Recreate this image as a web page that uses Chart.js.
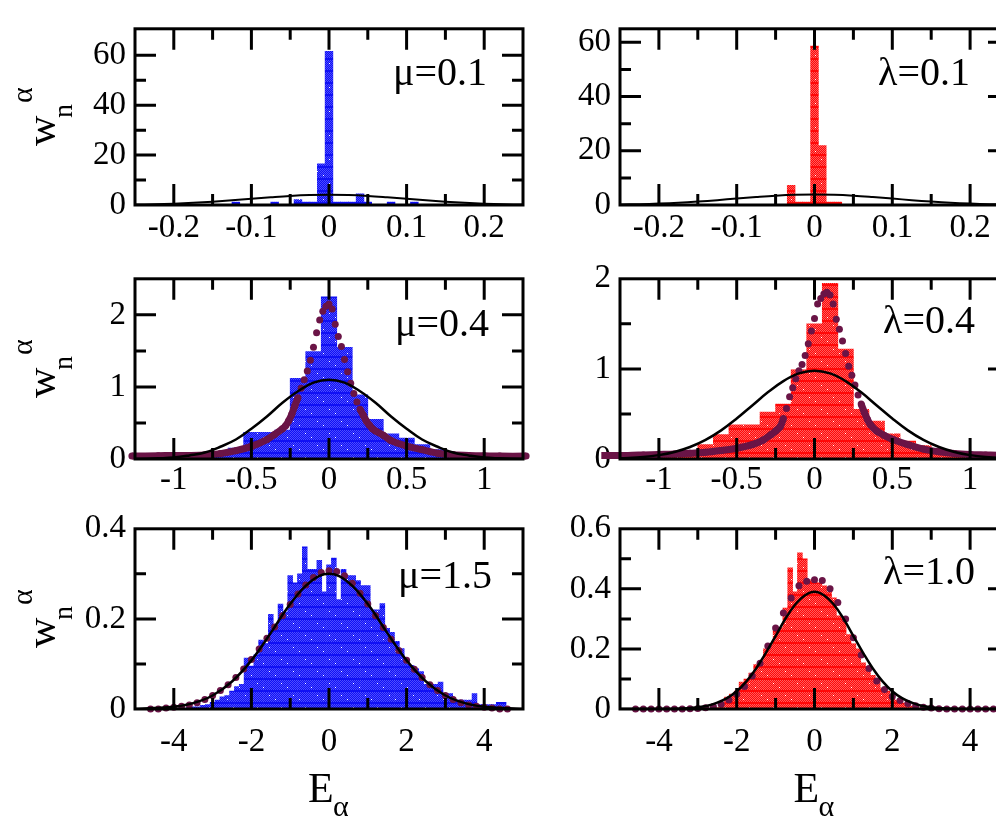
<!doctype html>
<html lang="en">
<head>
<meta charset="utf-8">
<title>Histograms of w_n^alpha</title>
<script src="https://cdn.jsdelivr.net/npm/chart.js@4"></script>
<style>
  html, body { margin: 0; padding: 0; background: #fff; }
  body { width: 996px; height: 816px; overflow: hidden; position: relative; }
  canvas { position: absolute; }
</style>
</head>
<body>
<canvas id="c1" width="540" height="250" style="left:0;top:0"></canvas>
<canvas id="c2" width="480" height="250" style="left:540px;top:0"></canvas>
<canvas id="c3" width="540" height="250" style="left:0;top:250px"></canvas>
<canvas id="c4" width="480" height="250" style="left:540px;top:250px"></canvas>
<canvas id="c5" width="540" height="316" style="left:0;top:500px"></canvas>
<canvas id="c6" width="480" height="316" style="left:540px;top:500px"></canvas>

<script>
// ---------- values ----------
// top row (mu=0.1 / lambda=0.1)
const p1BinX = [-0.12, -0.07, -0.04, -0.03, -0.02, -0.01, 0, 0.01, 0.02, 0.03, 0.04, 0.05, 0.08, 0.11];
const p1BinY = [1.2, 1.2, 2.2, 1.2, 1.2, 16.5, 61.6, 1.2, 1.2, 1.2, 4.5, 1.2, 1.2, 1.2];
const p2BinX = [-0.03, -0.02, -0.01, 0, 0.01, 0.02, 0.03];
const p2BinY = [7.3, 1.1, 1.1, 58.6, 21.9, 1.1, 1.1];
const narrowCurveX = [-0.25, -0.225, -0.2, -0.175, -0.15, -0.125, -0.1, -0.075, -0.05, -0.025, 0,
                      0.025, 0.05, 0.075, 0.1, 0.125, 0.15, 0.175, 0.2, 0.225, 0.25];
const p1CurveY = [0.18, 0.33, 0.55, 0.89, 1.33, 1.88, 2.49, 3.09, 3.62, 3.97, 4.1,
                  3.97, 3.62, 3.09, 2.49, 1.88, 1.33, 0.89, 0.55, 0.33, 0.18];
const p2CurveY = [0.17, 0.31, 0.53, 0.84, 1.27, 1.79, 2.37, 2.94, 3.44, 3.78, 3.9,
                  3.78, 3.44, 2.94, 2.37, 1.79, 1.27, 0.84, 0.53, 0.31, 0.17];

// middle row (mu=0.4 / lambda=0.4)
const midBinX = [-1.2, -1.1, -1, -0.9, -0.8, -0.7, -0.6, -0.5, -0.4, -0.3, -0.2, -0.1, 0,
                 0.1, 0.2, 0.3, 0.4, 0.5, 0.6, 0.7, 0.8, 0.9, 1, 1.1, 1.2];
const p3BinY = [0.01, 0.02, 0.02, 0.03, 0.05, 0.08, 0.15, 0.37, 0.37, 0.4, 1.12, 1.49, 2.25,
                1.55, 0.89, 0.55, 0.35, 0.29, 0.2, 0.13, 0.08, 0.05, 0.03, 0.02, 0.01];
const p4BinY = [0.02, 0.03, 0.03, 0.06, 0.09, 0.16, 0.27, 0.38, 0.38, 0.52, 0.61, 0.99, 1.5,
                1.95, 1.22, 0.55, 0.42, 0.28, 0.2, 0.15, 0.1, 0.06, 0.04, 0.03, 0.02];
const midCurveX = [-1.25, -1.1, -1, -0.9, -0.8, -0.7, -0.6, -0.5, -0.4, -0.3, -0.2, -0.1, 0,
                   0.1, 0.2, 0.3, 0.4, 0.5, 0.6, 0.7, 0.8, 0.9, 1, 1.1, 1.25];
const p3CurveY = [0, 0.01, 0.02, 0.05, 0.09, 0.17, 0.27, 0.42, 0.59, 0.78, 0.94, 1.06, 1.1,
                  1.06, 0.94, 0.78, 0.59, 0.42, 0.27, 0.17, 0.09, 0.05, 0.02, 0.01, 0];
const p4CurveY = [0.007, 0.022, 0.043, 0.078, 0.133, 0.212, 0.318, 0.449, 0.594, 0.74, 0.865, 0.95, 0.98,
                  0.95, 0.865, 0.74, 0.594, 0.449, 0.318, 0.212, 0.133, 0.078, 0.043, 0.022, 0.007];
const p3DotX = [-1.27, -1.1, -1, -0.9, -0.8, -0.7, -0.6, -0.5, -0.4, -0.35,
                -0.3, -0.28, -0.26, -0.24, -0.22, -0.2, -0.18, -0.16, -0.14, -0.12, -0.1,
                -0.08, -0.06, -0.04, -0.02, 0, 0.02, 0.04, 0.06, 0.08, 0.1,
                0.12, 0.14, 0.16, 0.18, 0.2, 0.22, 0.24, 0.26, 0.28, 0.3,
                0.35, 0.4, 0.5, 0.6, 0.7, 0.8, 0.9, 1, 1.1, 1.27];
const p3DotY = [0.04, 0.045, 0.05, 0.05, 0.055, 0.075, 0.115, 0.175, 0.27, 0.34,
                0.42, 0.46, 0.53, 0.62, 0.74, 0.85, 0.98, 1.1, 1.22, 1.37, 1.55,
                1.75, 1.93, 2.05, 2.12, 2.15, 2.08, 1.87, 1.7, 1.56, 1.38,
                1.21, 1.05, 0.91, 0.79, 0.69, 0.61, 0.53, 0.47, 0.42, 0.39,
                0.33, 0.255, 0.18, 0.13, 0.08, 0.06, 0.05, 0.045, 0.04, 0.04];
const p4DotX = [-1.37, -1.2, -1.1, -1, -0.9, -0.8, -0.7, -0.6, -0.5, -0.4, -0.33, -0.28, -0.25,
                -0.22, -0.2, -0.18, -0.16, -0.14, -0.12, -0.1, -0.08, -0.06, -0.04,
                -0.02, 0, 0.02, 0.04, 0.06, 0.08, 0.1, 0.12, 0.14, 0.16,
                0.18, 0.2, 0.22, 0.24, 0.26, 0.28, 0.3, 0.32, 0.34, 0.36,
                0.4, 0.45, 0.5, 0.6, 0.7, 0.8, 0.9, 1, 1.1, 1.2, 1.37];
const p4DotY = [0.04, 0.04, 0.045, 0.05, 0.055, 0.065, 0.075, 0.095, 0.12, 0.16, 0.21, 0.27, 0.31,
                0.36, 0.45, 0.56, 0.69, 0.79, 0.89, 0.98, 1.05, 1.15, 1.28,
                1.42, 1.56, 1.72, 1.78, 1.83, 1.85, 1.82, 1.72, 1.55, 1.44,
                1.31, 1.17, 1.03, 0.93, 0.82, 0.71, 0.61, 0.52, 0.44, 0.38,
                0.31, 0.26, 0.22, 0.16, 0.11, 0.08, 0.06, 0.05, 0.045, 0.04, 0.04];

// bottom row (mu=1.5 / lambda=1.0)
const p5BinX = [-3.625, -3.5, -3.375, -3.25, -3.125, -3, -2.875, -2.75, -2.625, -2.5, -2.375,
                -2.25, -2.125, -2, -1.875, -1.75, -1.625, -1.5, -1.375, -1.25, -1.125, -1,
                -0.875, -0.75, -0.625, -0.5, -0.375, -0.25, -0.125, 0, 0.125, 0.25, 0.375,
                0.5, 0.625, 0.75, 0.875, 1, 1.125, 1.25, 1.375, 1.5, 1.625, 1.75, 1.875,
                2, 2.125, 2.25, 2.375, 2.5, 2.625, 2.75, 2.875, 3, 3.125, 3.25, 3.375,
                3.5, 3.625, 3.75, 3.875, 4, 4.125, 4.25, 4.375, 4.5];
const p5BinY = [0.003, 0.005, 0.005, 0.008, 0.01, 0.015, 0.02, 0.027, 0.03, 0.04, 0.05,
                0.055, 0.113, 0.095, 0.12, 0.153, 0.145, 0.21, 0.18, 0.233, 0.215, 0.296,
                0.28, 0.3, 0.36, 0.31, 0.31, 0.33, 0.26, 0.32, 0.335, 0.243, 0.31,
                0.296, 0.296, 0.285, 0.274, 0.274, 0.22, 0.22, 0.234, 0.179, 0.17, 0.15, 0.134,
                0.11, 0.097, 0.09, 0.083, 0.055, 0.055, 0.055, 0.06, 0.034, 0.034, 0.02, 0.02,
                0.02, 0.02, 0.034, 0.01, 0.01, 0.01, 0.01, 0.015, 0.015];
const p6BinX = [-2.5, -2.375, -2.25, -2.125, -2, -1.875, -1.75, -1.625, -1.5, -1.375, -1.25,
                -1.125, -1, -0.875, -0.75, -0.625, -0.5, -0.375, -0.25, -0.125, 0, 0.125,
                0.25, 0.375, 0.5, 0.625, 0.75, 0.875, 1, 1.125, 1.25, 1.375, 1.5, 1.625,
                1.75, 1.875, 2, 2.125, 2.25, 2.375, 2.5, 2.625];
const p6BinY = [0.005, 0.02, 0.04, 0.05, 0.06, 0.09, 0.1, 0.12, 0.148, 0.158, 0.2,
                0.217, 0.26, 0.27, 0.336, 0.47, 0.39, 0.52, 0.5, 0.43, 0.425, 0.42,
                0.41, 0.405, 0.37, 0.31, 0.3, 0.248, 0.217, 0.2, 0.154, 0.14, 0.112, 0.1,
                0.07, 0.06, 0.04, 0.03, 0.02, 0.015, 0.01, 0.005];
const p5CurveX = [-5, -4.5, -4, -3.5, -3, -2.5, -2, -1.5, -1, -0.5, 0, 0.5, 1, 1.5, 2, 2.5, 3, 3.5, 4, 4.5, 5];
const p5CurveY = [0, 0.002, 0.005, 0.013, 0.03, 0.061, 0.108, 0.169, 0.233, 0.281, 0.3,
                  0.281, 0.233, 0.169, 0.108, 0.061, 0.03, 0.013, 0.005, 0.002, 0];
const p6CurveX = [-5, -4, -3.5, -3, -2.75, -2.5, -2.25, -2, -1.75, -1.5, -1.25, -1, -0.75, -0.5, -0.25, 0,
                  0.25, 0.5, 0.75, 1, 1.25, 1.5, 1.75, 2, 2.25, 2.5, 2.75, 3, 3.5, 4, 5];
const p6CurveY = [0, 0, 0.001, 0.006, 0.011, 0.021, 0.036, 0.059, 0.092, 0.135, 0.187, 0.243, 0.3, 0.347, 0.378, 0.39,
                  0.378, 0.347, 0.3, 0.243, 0.187, 0.135, 0.092, 0.059, 0.036, 0.021, 0.011, 0.006, 0.001, 0, 0];
const wideDotX = [-4.6, -4.4, -4.2, -4, -3.8, -3.6, -3.4, -3.2, -3, -2.8, -2.6, -2.4, -2.2, -2, -1.8, -1.6,
                  -1.4, -1.2, -1, -0.8, -0.6, -0.4, -0.2, 0, 0.2, 0.4, 0.6, 0.8, 1, 1.2, 1.4, 1.6,
                  1.8, 2, 2.2, 2.4, 2.6, 2.8, 3, 3.2, 3.4, 3.6, 3.8, 4, 4.2, 4.4, 4.6];
const p5DotY = [0, 0, 0.002, 0.004, 0.006, 0.009, 0.014, 0.021, 0.03, 0.041, 0.054, 0.07, 0.089, 0.11, 0.133, 0.157,
                0.182, 0.207, 0.232, 0.255, 0.275, 0.292, 0.303, 0.307, 0.305, 0.296, 0.279, 0.257, 0.233, 0.207, 0.181, 0.155,
                0.13, 0.108, 0.088, 0.07, 0.054, 0.041, 0.03, 0.021, 0.014, 0.009, 0.006, 0.004, 0.002, 0, 0];
const p6DotY = [0, 0, 0, 0, 0, 0, 0, 0.001, 0.002, 0.004, 0.008, 0.016, 0.03, 0.05, 0.075, 0.11,
                0.152, 0.21, 0.27, 0.32, 0.37, 0.41, 0.425, 0.43, 0.428, 0.4, 0.355, 0.3, 0.237, 0.18, 0.135, 0.093,
                0.065, 0.042, 0.028, 0.018, 0.011, 0.006, 0.003, 0.001, 0, 0, 0, 0, 0, 0, 0];

// ticks and labels
const narrowXTicks = [-0.2, -0.1, 0, 0.1, 0.2];
const narrowXLabels = ['-0.2', '-0.1', '0', '0.1', '0.2'];
const narrowXMinor = [-0.15, -0.05, 0.05, 0.15];
const midXTicks = [-1, -0.5, 0, 0.5, 1];
const midXLabels = ['-1', '-0.5', '0', '0.5', '1'];
const midXMinor = [-0.75, -0.25, 0.25, 0.75];
const wideXTicks = [-4, -2, 0, 2, 4];
const wideXLabels = ['-4', '-2', '0', '2', '4'];
const wideXMinor = [-3, -1, 1, 3];
const countYTicks = [0, 20, 40, 60];
const countYLabels = ['0', '20', '40', '60'];
const countYMinor = [10, 30, 50];
const midYTicks = [0, 1, 2];
const midYLabels = ['0', '1', '2'];
const midYMinor = [0.5, 1.5];
const p5YTicks = [0, 0.2, 0.4];
const p5YLabels = ['0', '0.2', '0.4'];
const p5YMinor = [0.1, 0.3];
const p6YTicks = [0, 0.2, 0.4, 0.6];
const p6YLabels = ['0', '0.2', '0.4', '0.6'];
const p6YMinor = [0.1, 0.3, 0.5];

// ---------- drawing ----------
const serif = '"Liberation Serif", "DejaVu Serif", serif';
const maroon = '#6a1446';
Chart.defaults.font.family = serif;

function pts(xs, ys) { return xs.map((x, i) => ({ x: x, y: ys[i] })); }

// dithered fill like the printed histogram bars
function texture(ctx, base, light) {
  const t = document.createElement('canvas');
  t.width = 24; t.height = 24;
  const g = t.getContext('2d');
  g.fillStyle = base; g.fillRect(0, 0, 24, 24);
  g.fillStyle = light;
  for (let yy = 0; yy < 24; yy++) {
    if (yy % 12 > 9) continue;
    for (let xx = yy % 2; xx < 24; xx += 2) g.fillRect(xx, yy, 1, 1);
  }
  g.fillStyle = '#fff';
  g.fillRect(5, 3, 1, 1); g.fillRect(17, 15, 1, 1);
  g.fillRect(11, 7, 1, 1); g.fillRect(23, 19, 1, 1);
  return ctx.createPattern(t, 'repeat');
}

const frame = {
  id: 'frame',
  afterDatasetsDraw(chart, args, o) {
    const ctx = chart.ctx, a = chart.chartArea, x = chart.scales.x, y = chart.scales.y;
    ctx.save();
    ctx.strokeStyle = '#000';
    ctx.lineWidth = 3;
    ctx.beginPath();
    const xt = (vals, len) => vals.forEach(v => {
      const px = x.getPixelForValue(v);
      ctx.moveTo(px, a.bottom); ctx.lineTo(px, a.bottom - len);
      ctx.moveTo(px, a.top); ctx.lineTo(px, a.top + len);
    });
    const yt = (vals, len) => vals.forEach(v => {
      const py = y.getPixelForValue(v);
      ctx.moveTo(a.left, py); ctx.lineTo(a.left + len, py);
      ctx.moveTo(a.right, py); ctx.lineTo(a.right - len, py);
    });
    xt(o.xMajor.filter(v => v > x.min && v < x.max), 21);
    xt(o.xMinor, 11);
    yt(o.yMajor.filter(v => v > y.min && v < y.max), 21);
    yt(o.yMinor, 11);
    ctx.stroke();
    ctx.strokeRect(a.left, a.top, a.right - a.left, a.bottom - a.top);

    ctx.fillStyle = '#000';
    ctx.textBaseline = 'alphabetic';
    ctx.textAlign = 'left';
    ctx.font = '40px ' + serif;
    ctx.fillText(o.note, a.left + o.noteAt[0], a.top + o.noteAt[1]);

    if (o.yTitle) {
      ctx.save();
      ctx.translate(55, (a.top + a.bottom) / 2 + 29);
      ctx.rotate(-Math.PI / 2);
      ctx.font = '42px ' + serif;
      ctx.fillText('w', 0, 0);
      ctx.font = '28px ' + serif;
      ctx.fillText('n', 28, 17);
      ctx.font = '30px ' + serif;
      ctx.fillText('\u03b1', 43, -23);
      ctx.restore();
    }
    if (o.xTitle) {
      const x0 = x.getPixelForValue(0);
      ctx.font = '42px ' + serif;
      ctx.fillText('E', x0 - 21, 302);
      ctx.font = '30px ' + serif;
      ctx.fillText('\u03b1', x0 + 4, 316);
    }
    ctx.restore();
  }
};

function panel(id, o) {
  const ctx = document.getElementById(id).getContext('2d');
  const sets = [{
    type: 'bar', data: pts(o.binX, o.binY), order: 3,
    backgroundColor: texture(ctx, o.base, o.light), borderWidth: 0,
    barPercentage: 1, categoryPercentage: 1
  }];
  if (o.dotX) {
    const band = o.band;
    sets.push({
      type: 'line', data: pts(o.dotX, o.dotY), order: 2, clip: false,
      showLine: !!band, borderColor: maroon, borderWidth: 7, tension: 0.3,
      pointRadius: 3.5, pointBackgroundColor: maroon, pointBorderWidth: 0,
      segment: band ? {
        borderColor: c => ((c.p0.parsed.x <= band[0] && c.p1.parsed.x <= band[0]) ||
                           (c.p0.parsed.x >= band[1] && c.p1.parsed.x >= band[1])) ? maroon : 'rgba(0,0,0,0)'
      } : undefined
    });
  }
  sets.push({
    type: 'line', data: pts(o.curveX, o.curveY), order: 1,
    borderColor: '#000', borderWidth: o.lw, pointRadius: 0, tension: 0.4
  });

  new Chart(ctx, {
    type: 'bar',
    data: { datasets: sets },
    options: {
      responsive: false, animation: false, devicePixelRatio: 1,
      layout: { padding: { top: o.padTop, right: o.padRight, left: 0, bottom: 0 }, autoPadding: false },
      plugins: {
        legend: { display: false }, tooltip: { enabled: false },
        frame: {
          xMajor: o.xTicks, xMinor: o.xMinor, yMajor: o.yTicks, yMinor: o.yMinor,
          note: o.note, noteAt: o.noteAt, yTitle: o.yTitle, xTitle: o.xTitle
        }
      },
      scales: {
        x: {
          type: 'linear', min: o.xMin, max: o.xMax, offset: false,
          grid: { display: false, drawTicks: false, offset: false }, border: { display: false },
          afterBuildTicks: s => { s.ticks = o.xTicks.map(v => ({ value: v })); },
          afterFit: s => { s.height = o.xAxisH; },
          ticks: {
            autoSkip: false, maxRotation: 0, minRotation: 0, padding: o.xPad,
            color: '#000', font: { size: 33 },
            callback: (v, i) => o.xLabels[i]
          }
        },
        y: {
          type: 'linear', min: 0, max: o.yMax,
          grid: { display: false, drawTicks: false }, border: { display: false },
          afterBuildTicks: s => { s.ticks = o.yTicks.map(v => ({ value: v })); },
          afterFit: s => { s.width = o.yAxisW; },
          ticks: {
            autoSkip: false, padding: 9, color: '#000', font: { size: 33 },
            callback: (v, i) => o.yLabels[i]
          }
        }
      }
    },
    plugins: [frame]
  });
}

const blue = ['#1010f4', '#4c4cff'];
const red = ['#ff0808', '#ff5c5c'];
const left = { yAxisW: 135, padRight: 17, yTitle: true, base: blue[0], light: blue[1] };
const right = { yAxisW: 80, padRight: 11, yTitle: false, base: red[0], light: red[1] };
const row1 = { padTop: 12, xAxisH: 45, xPad: 4, xMin: -0.25, xMax: 0.25,
  xTicks: narrowXTicks, xLabels: narrowXLabels, xMinor: narrowXMinor, lw: 2 };
const row2 = { padTop: 14, xAxisH: 41, xPad: 2, xMin: -1.25, xMax: 1.25,
  xTicks: midXTicks, xLabels: midXLabels, xMinor: midXMinor, lw: 2.5 };
const row3 = { padTop: 18, xAxisH: 107, xPad: 14, xMin: -5, xMax: 5,
  xTicks: wideXTicks, xLabels: wideXLabels, xMinor: wideXMinor, lw: 2.5, xTitle: true };

panel('c1', Object.assign({}, left, row1, {
  binX: p1BinX, binY: p1BinY, curveX: narrowCurveX, curveY: p1CurveY,
  yMax: 70.6, yTicks: countYTicks, yLabels: countYLabels, yMinor: countYMinor,
  note: '\u03bc=0.1', noteAt: [258, 56]
}));
panel('c2', Object.assign({}, right, row1, {
  binX: p2BinX, binY: p2BinY, curveX: narrowCurveX, curveY: p2CurveY,
  yMax: 65, yTicks: countYTicks, yLabels: countYLabels, yMinor: countYMinor,
  note: '\u03bb=0.1', noteAt: [258, 56]
}));
panel('c3', Object.assign({}, left, row2, {
  binX: midBinX, binY: p3BinY, curveX: midCurveX, curveY: p3CurveY,
  dotX: p3DotX, dotY: p3DotY, band: [-0.19, 0.19],
  yMax: 2.5, yTicks: midYTicks, yLabels: midYLabels, yMinor: midYMinor,
  note: '\u03bc=0.4', noteAt: [260, 57]
}));
panel('c4', Object.assign({}, right, row2, {
  binX: midBinX, binY: p4BinY, curveX: midCurveX, curveY: p4CurveY,
  dotX: p4DotX, dotY: p4DotY, band: [-0.19, 0.29],
  yMax: 2, yTicks: midYTicks, yLabels: midYLabels, yMinor: midYMinor,
  note: '\u03bb=0.4', noteAt: [263, 54]
}));
panel('c5', Object.assign({}, left, row3, {
  binX: p5BinX, binY: p5BinY, curveX: p5CurveX, curveY: p5CurveY,
  dotX: wideDotX, dotY: p5DotY,
  yMax: 0.4, yTicks: p5YTicks, yLabels: p5YLabels, yMinor: p5YMinor,
  note: '\u03bc=1.5', noteAt: [263, 59]
}));
panel('c6', Object.assign({}, right, row3, {
  binX: p6BinX, binY: p6BinY, curveX: p6CurveX, curveY: p6CurveY,
  dotX: wideDotX, dotY: p6DotY,
  yMax: 0.6, yTicks: p6YTicks, yLabels: p6YLabels, yMinor: p6YMinor,
  note: '\u03bb=1.0', noteAt: [263, 55]
}));
</script>
</body>
</html>
